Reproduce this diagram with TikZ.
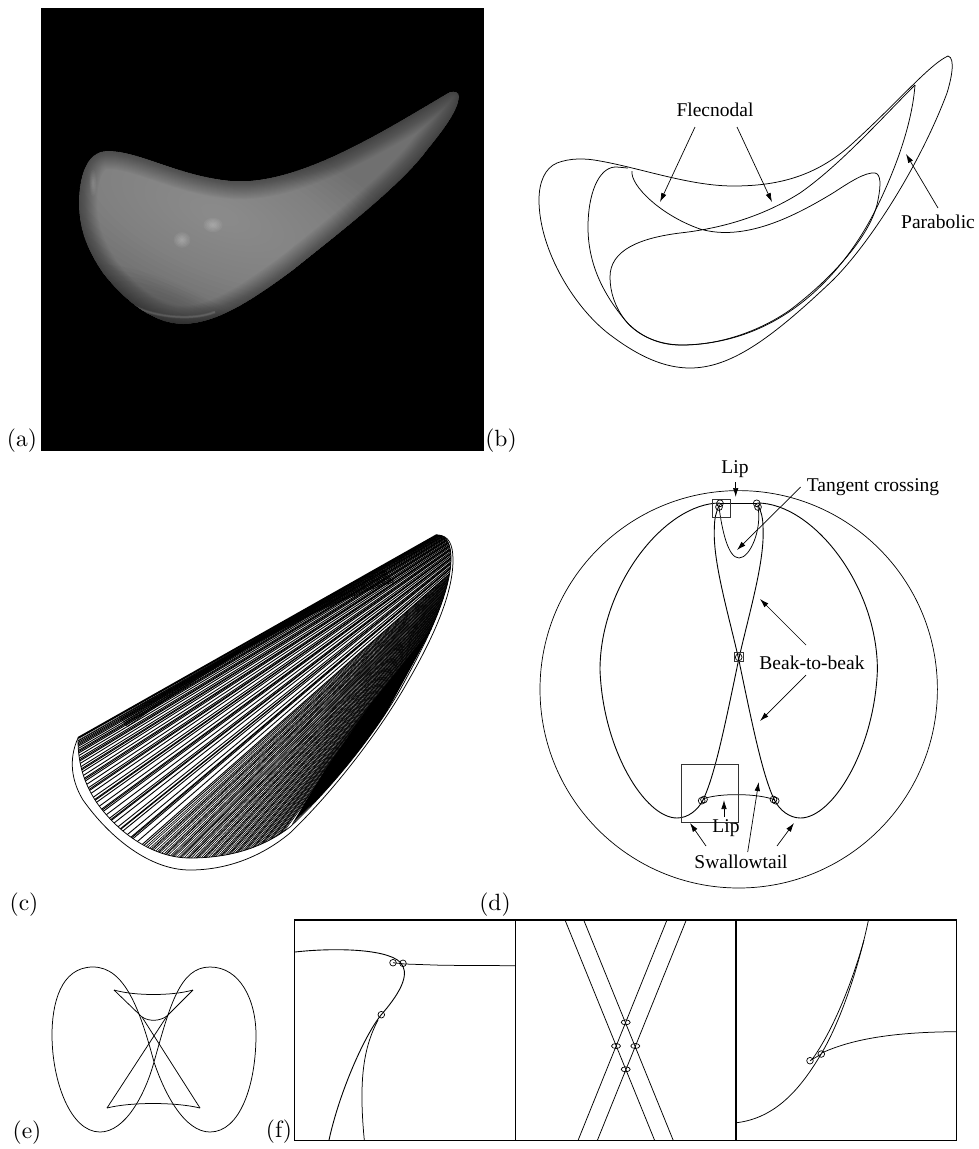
\documentclass[tikz,border=0pt]{standalone}
\usepackage{fontspec}
\newfontfamily\labelfont{Liberation Serif}
\font\panelrm="[lmroman10-regular.otf]" at 23.5pt
\usetikzlibrary{arrows.meta}
\tikzset{
  curve/.style={draw=black,line width=0.9pt,line join=round},
  thincurve/.style={draw=black,line width=0.75pt,line join=round},
  lead/.style={draw=black,line width=0.7pt,-{Latex[length=9pt,width=5.5pt]}},
  callout/.style={font=\labelfont\fontsize{19.5}{22}\selectfont,inner sep=0pt},
  panel/.style={font=\panelrm,inner sep=0pt},
  boxframe/.style={draw=black,line width=1.3pt},
  ringmark/.style={draw=black,line width=0.7pt},
  zoombox/.style={draw=black!80,line width=0.8pt}
}
\def\blob{(450,92) .. controls (455,91) and (459,92) .. (459,97) .. controls (458,110) and (445,128) .. (427,150) .. controls (400,187) and (330,240) .. (293,270) .. controls (250,302) and (215,324) .. (183,324) .. controls (150,324) and (120,295) .. (103,273) .. controls (85,247) and (79,225) .. (79,203) .. controls (79,180) and (85,151) .. (108,151) .. controls (140,151) and (180,177) .. (233,181) .. controls (300,185) and (385,130) .. (450,92) -- cycle}
\def\hatchin{(437,535) .. controls (447,535) and (451,545) .. (451,558) .. controls (451,590) and (430,635) .. (407,677) .. controls (385,720) and (340,780) .. (290,827) .. controls (260,850) and (225,858) .. (190,858) .. controls (155,858) and (120,835) .. (97,803) .. controls (85,785) and (78,765) .. (78,740)}
\def\eggside{(720,503) .. controls (665,503) and (600,585) .. (600,670) .. controls (603,750) and (645,818) .. (677,818) .. controls (688,818) and (698,810) .. (703,800) .. controls (715,775) and (725,725) .. (739,658) .. controls (750,610) and (765,560) .. (763,527) .. controls (763,518) and (761,511) .. (758,505)}
\begin{document}
\begin{tikzpicture}[x=1pt,y=-1pt]
\useasboundingbox (0,0) rectangle (979,1149);

% ---------- (a)
\fill[black] (41,8) rectangle (484,451);
\begin{scope}
  \clip \blob;
  \fill[black!56] (41,8) rectangle (484,451);
  \foreach \r in {1,...,18}{
    \fill[white,opacity=0.016,rotate around={-22:(220,215)}] (220,215) ellipse[x radius={8+12*\r},y radius={4+5*\r}];
  }
  \foreach \r in {1,...,12}{
    \fill[black,opacity=0.02,rotate around={-28:(190,325)}] (190,330) ellipse[x radius={10*\r},y radius={3*\r}];
  }
  \foreach \w in {2,4,...,36}{
    \draw[black,opacity=0.024,line width=\w pt] \blob;
  }
  \foreach \r in {1,...,6}{
    \fill[white,opacity=0.05] (213,225) ellipse[x radius={1.6*\r},y radius={1.2*\r}];
    \fill[white,opacity=0.05] (182,240) ellipse[x radius={1.4*\r},y radius={1.3*\r}];
    \fill[white,opacity=0.03] (93,183) ellipse[x radius={0.6*\r},y radius={2.2*\r}];
  }
  \foreach \w in {1,2,3}{
    \draw[white,opacity=0.06,line width=\w pt] (132,305) .. controls (150,316) and (190,322) .. (215,312);
  }
\end{scope}
\node[panel] (pa) at (22,441) {(a)};

% ---------- (b)
\draw[thincurve] (948,56) .. controls (930,64) and (900,100) .. (853,143) .. controls (815,178) and (775,186) .. (733,186) .. controls (690,186) and (640,168) .. (600,161) .. controls (585,158) and (570,158) .. (557,163) .. controls (545,168) and (539,182) .. (539,200) .. controls (539,250) and (575,310) .. (613,337) .. controls (640,357) and (665,368) .. (690,368) .. controls (730,368) and (770,340) .. (833,280) .. controls (870,243) and (920,165) .. (947,93) .. controls (951,80) and (956,58) .. (948,56) -- cycle;
\draw[thincurve] (915,85) .. controls (912,125) and (895,170) .. (877,207) .. controls (850,262) and (790,343) .. (683,345) .. controls (655,346) and (635,332) .. (625,320) .. controls (600,290) and (588,260) .. (588,227) .. controls (588,195) and (598,168) .. (615,167) .. controls (620,167) and (625,168) .. (628,168);
\draw[thincurve] (632,171) .. controls (630,185) and (660,215) .. (700,229) .. controls (745,242) and (795,216) .. (833,193) .. controls (850,182) and (865,172) .. (875,173) .. controls (881,174) and (881,185) .. (878,200) .. controls (872,235) and (830,280) .. (790,310) .. controls (760,331) and (720,345) .. (683,345) .. controls (655,345) and (635,333) .. (625,320) .. controls (615,307) and (610,292) .. (610,277) .. controls (610,250) and (640,238) .. (680,233) .. controls (725,228) and (765,215) .. (800,193) .. controls (840,165) and (880,120) .. (915,85);
\node[callout] (flec) at (715,110) {Flecnodal};
\node[callout] (para) at (938,222) {Parabolic};
\coordinate (flecLs) at (695,127); \coordinate (flecLe) at (660,202);
\coordinate (flecRs) at (737,127); \coordinate (flecRe) at (772,202);
\coordinate (paraS) at (938,208);  \coordinate (paraE) at (906,154);
\draw[lead] (flecLs) -- (flecLe);
\draw[lead] (flecRs) -- (flecRe);
\draw[lead] (paraS) -- (paraE);
\node[panel] (pb) at (501,441) {(b)};

% ---------- (c)
\begin{scope}
  \clip \hatchin -- cycle;
  \fill[black] (437,620) -- (373,737) -- (330,787) -- (292,824) -- (325,770) -- (370,705) -- (415,650) -- cycle;
  \foreach \i in {0,...,130}{
    \pgfmathsetmacro\u{(\i<55)?(\i/55):((\i-55)/75)}
    \pgfmathsetmacro\t{(\i<55)?(0.5*pow(\u,1.5)+0.009*sin(\i*83)*\u):(0.5+0.5*\u+0.002*sin(\i*83))}
    \pgfmathsetmacro\t{max(0,min(1,\t))}
    \pgfmathsetmacro\s{1-\t}
    \pgfmathsetmacro\px{\s*\s*\s*70+3*\s*\s*\t*85+3*\s*\t*\t*180+\t*\t*\t*285}
    \pgfmathsetmacro\py{\s*\s*\s*742.5+3*\s*\s*\t*840+3*\s*\t*\t*900+\t*\t*\t*830}
    \pgfmathsetmacro\m{min(\t,0.9)}
    \pgfmathsetmacro\ex{445-8*(\m/0.9)*(\m/0.9)}
    \pgfmathsetmacro\ey{530.5+102*\m}
    \pgfmathsetmacro\lw{(\i<55)?0.9:0.65}
    \draw[black,line width=\lw pt] ({\px-0.1*(\ex-\px)},{\py-0.1*(\ey-\py)}) -- ({\ex+0.1*(\ex-\px)},{\ey+0.1*(\ey-\py)});
  }
  \foreach \k in {0,...,9}{
    \draw[black,line width=0.7pt] ({118+\k},{716+1.2*\k}) .. controls (200,675) and (300,610) .. ({385+\k},{570+1.3*\k});
  }
\end{scope}
\draw[thincurve] \hatchin;
\draw[thincurve] (437,535) .. controls (449,535) and (453,545) .. (453,560) .. controls (453,595) and (432,640) .. (407,683) .. controls (385,722) and (340,785) .. (290,833) .. controls (260,858) and (225,870) .. (190,870) .. controls (150,870) and (110,838) .. (83,800) .. controls (72,782) and (68,760) .. (78,738);
\draw[black,line width=2pt] (78,738) -- (437,535);
\node[panel] (pc) at (24,905) {(c)};

% ---------- (d)
\node[circle,draw=black,line width=0.7pt,minimum size=397.4pt,inner sep=0pt] (globe) at (738.7,689.3) {};
\draw[curve] \eggside;
\begin{scope}[xshift=1477.4pt,xscale=-1]
  \draw[curve] \eggside;
\end{scope}
\draw[thincurve] (720,503) -- (757,503);
\draw[thincurve] (719,507) .. controls (722,530) and (728,558) .. (739,558) .. controls (750,558) and (762,530) .. (758,507);
\draw[thincurve] (703,799) .. controls (718,793) and (758,793) .. (775,800);
\foreach \x/\y in {720/503.3,756.7/503.3,719/507,758/507,701.7/800.7,775.7/800.7,704/799.5,773.5/799.5,738.7/657.3}{
  \draw[ringmark] (\x,\y) circle[radius=3.4pt];
}
\draw[zoombox] (712,499.3) rectangle (730,517.3);
\draw[zoombox] (734.3,652.7) rectangle (743.3,661.7);
\draw[zoombox] (681.3,764.7) rectangle (738.7,822);
\node[callout] (lipT) at (735,469) {Lip};
\node[callout] (tang) at (873,487) {Tangent crossing};
\node[callout] (beak) at (812,663) {Beak-to-beak};
\node[callout] (lipB) at (726,828) {Lip};
\node[callout] (swal) at (741,862) {Swallowtail};
\coordinate (lipTs) at (735.7,482); \coordinate (lipTe) at (735.7,497);
\coordinate (tangS) at (800.7,487); \coordinate (tangE) at (737,550);
\coordinate (beakAs) at (806,645); \coordinate (beakAe) at (760,599);
\coordinate (beakBs) at (806,675); \coordinate (beakBe) at (760,721);
\coordinate (lipBs) at (724,817); \coordinate (lipBe) at (724,800);
\coordinate (swAs) at (706,846); \coordinate (swAe) at (690,823);
\coordinate (swBs) at (747.7,852); \coordinate (swBe) at (758.7,782);
\coordinate (swCs) at (777,846); \coordinate (swCe) at (794,823);
\draw[lead] (lipTs) -- (lipTe);
\draw[lead] (tangS) -- (tangE);
\draw[lead] (beakAs) -- (beakAe);
\draw[lead] (beakBs) -- (beakBe);
\draw[lead] (lipBs) -- (lipBe);
\draw[lead] (swAs) -- (swAe);
\draw[lead] (swBs) -- (swBe);
\draw[lead] (swCs) -- (swCe);
\node[panel] (pd) at (495,905) {(d)};

% ---------- (e)
\draw[thincurve] (154,1062) .. controls (140,1010) and (125,967) .. (93,967) .. controls (60,967) and (52,1005) .. (52,1035) .. controls (52,1080) and (70,1132) .. (100,1132) .. controls (125,1132) and (145,1095) .. (154,1062) .. controls (170,1005) and (180,967) .. (210,967) .. controls (240,967) and (256,1000) .. (256,1035) .. controls (256,1085) and (240,1132) .. (210,1132) .. controls (185,1132) and (165,1095) .. (154,1062);
\draw[thincurve] (114,990) .. controls (135,996) and (172,996) .. (193,990);
\draw[thincurve] (107,1108) .. controls (130,1102) and (176,1102) .. (200,1108);
\draw[thincurve] (114,990) -- (142,1017) -- (200,1108);
\draw[thincurve] (193,990) -- (167,1016) -- (107,1108);
\draw[thincurve] (142,1017) .. controls (150,1022) and (160,1021) .. (167,1016);
\node[panel] (pe) at (27,1133) {(e)};

% ---------- (f)
\draw[boxframe] (294.3,920) rectangle (515.5,1140.5);
\draw[boxframe] (515.5,920) rectangle (736,1140.5);
\draw[boxframe] (736,920) rectangle (956.7,1140.5);
% left box
\draw[curve] (295,952) .. controls (330,948) and (385,948) .. (400,962) .. controls (410,972) and (403,990) .. (381,1015) .. controls (365,1035) and (340,1090) .. (329,1140);
\draw[thincurve] (378,1020) .. controls (365,1045) and (358,1075) .. (364.3,1140);
\draw[thincurve] (393,962.7) -- (405,964) -- (443,965.3) -- (515.5,965.7);
\foreach \x/\y in {393/962.7,403/963.3,381.3/1014.7}{
  \draw[ringmark] (\x,\y) circle[radius=3.3pt];
}
% middle box
\draw[thincurve] (565.3,920.7) -- (654.7,1140.5);
\draw[thincurve] (584,920.7) -- (673.3,1140.5);
\draw[thincurve] (666.7,920.7) -- (578,1140.5);
\draw[thincurve] (686,920.7) -- (597.3,1140.5);
\foreach \x/\y in {625.7/1022.3,616/1046,635.3/1046,625.7/1069.3}{
  \draw[ringmark] (\x,\y) ellipse[x radius=4.5pt,y radius=2.5pt];
}
% right box
\draw[thincurve] (736.7,1122.7) .. controls (775,1118) and (800,1090) .. (821.7,1053) .. controls (840,1022) and (858,970) .. (868.3,920.7);
\draw[thincurve] (811.7,1060) .. controls (830,1035) and (850,990) .. (864,940);
\draw[thincurve] (821.7,1053) .. controls (850,1040) and (890,1032) .. (956.7,1031.7);
\draw[thincurve] (810,1060.7) -- (821.3,1054);
\foreach \x/\y in {810/1060.7,821.3/1054}{
  \draw[ringmark] (\x,\y) circle[radius=3.3pt];
}
\node[panel] (pf) at (279,1132) {(f)};
\end{tikzpicture}
\end{document}
